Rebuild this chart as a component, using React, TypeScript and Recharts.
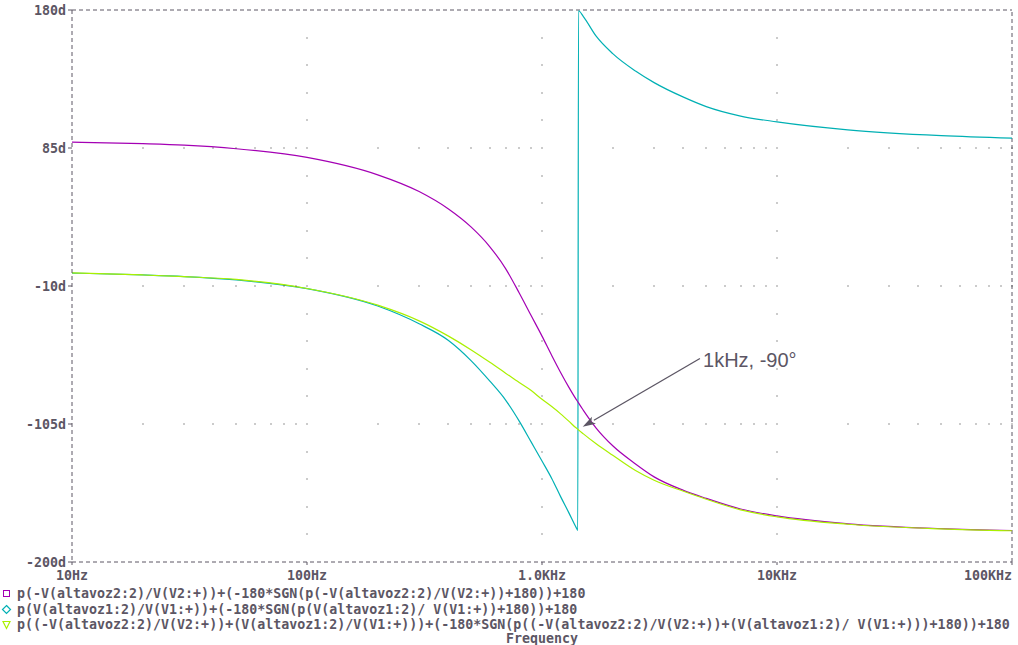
import React from 'react';
import {
  LineChart,
  Line,
  XAxis,
  YAxis,
  ReferenceLine,
  ReferenceDot,
} from 'recharts';

// frequency points (Hz)
const freqs = [
  10, 20, 30, 50, 100, 200, 300, 400, 500, 600, 700, 800, 900, 1000, 1100,
  1200, 1300, 1400, 1420, 1430, 1500, 1700, 2000, 2500, 3000, 4000, 5000, 7000,
  10000, 20000, 50000, 100000,
];

// p(-V(altavoz2:2)/V(V2:+)) ... (magenta)
const phaseWoofer = [
  89, 88, 87, 84.5, 78.5, 66.5, 55, 43, 30.5, 17, 2, -14.8, -30.5, -44.5, -57.8,
  -69.5, -79.6, -88.2, -89.7, -90.5, -95.6, -107.8, -120, -132.5, -141.4,
  -150.7, -156.2, -163.5, -168.3, -173.7, -177, -178.3,
];

// p(V(altavoz1:2)/V(V1:+)) ... (cyan, wraps at -180)
const phaseTweeter = [
  -1.1, -2.4, -3.5, -5.8, -11.8, -23.8, -36, -47.5, -61.5, -75.5, -88.5, -103,
  -117.5, -130.5, -142.5, -155, -166, -176.5, -178.2, 179.5, 175.5, 162, 150,
  138, 130, 120, 113.5, 107, 103, 97.5, 93.5, 91.8,
];

// p((-V(altavoz2:2)/V(V2:+))+(V(altavoz1:2)/V(V1:+))) ... (yellow-green)
const phaseSum = [
  -1, -2.4, -3.5, -5.5, -11.7, -23.2, -34, -44.5, -54, -62.5, -70, -76.5, -82,
  -88, -93, -98, -103, -107.8, -108.5, -109, -111.8, -118.6, -126.5, -137,
  -143.7, -151.3, -156.8, -164.1, -168.9, -174, -177.2, -178.5,
];

const xTicks = [10, 100, 1000, 10000, 100000];
const xTickLabels = ['10Hz', '100Hz', '1.0KHz', '10KHz', '100KHz'];
const yTicks = [-200, -105, -10, 85, 180];
const yTickLabels = ['-200d', '-105d', '-10d', '85d', '180d'];

const legendLabels = [
  'p(-V(altavoz2:2)/V(V2:+))+(-180*SGN(p(-V(altavoz2:2)/V(V2:+))+180))+180',
  'p(V(altavoz1:2)/V(V1:+))+(-180*SGN(p(V(altavoz1:2)/ V(V1:+))+180))+180',
  'p((-V(altavoz2:2)/V(V2:+))+(V(altavoz1:2)/V(V1:+)))+(-180*SGN(p((-V(altavoz2:2)/V(V2:+))+(V(altavoz1:2)/ V(V1:+)))+180))+180',
];

const MAGENTA = '#a400b4';
const CYAN = '#00b0b4';
const GREEN = '#aaf000';
const GRAY = '#5c5664';
const MONO = '"DejaVu Sans Mono", "Liberation Mono", monospace';

const chartData = freqs.map((f, i) => ({
  f,
  woofer: phaseWoofer[i],
  tweeter: phaseTweeter[i],
  sum: phaseSum[i],
}));

// dotted grid: minor decades along the inner horizontal lines,
// 19d steps along the inner decade lines
const gridDots: { x: number; y: number }[] = [];
yTicks.slice(1, -1).forEach((y) => {
  for (let d = 10; d < 100000; d *= 10) {
    for (let m = 2; m <= 10; m++) {
      gridDots.push({ x: d * m, y });
    }
  }
});
xTicks.slice(1, -1).forEach((x) => {
  for (let i = 0; i < yTicks.length - 1; i++) {
    for (let j = 1; j <= 4; j++) {
      gridDots.push({ x, y: yTicks[i] + j * 19 });
    }
  }
});

const XTick = (props: any) => {
  const { x, y, payload, index } = props;
  const last = index === xTicks.length - 1;
  return (
    <text
      x={x}
      y={y + 13}
      textAnchor={last ? 'end' : 'middle'}
      fontFamily={MONO}
      fontWeight="bold"
      fontSize={13.3}
      fill={GRAY}
    >
      {xTickLabels[xTicks.indexOf(payload.value)]}
    </text>
  );
};

const YTick = (props: any) => {
  const { x, y, payload } = props;
  return (
    <text
      x={x}
      y={y + 4.5}
      textAnchor="end"
      fontFamily={MONO}
      fontWeight="bold"
      fontSize={13.3}
      fill={GRAY}
    >
      {yTickLabels[yTicks.indexOf(payload.value)]}
    </text>
  );
};

const GridDot = (props: any) => (
  <rect x={Math.round(props.cx) - 0.5} y={Math.round(props.cy) - 0.5} width={1} height={1} fill="#333" />
);

const Arrow = (props: any) => {
  const { x1, y1, x2, y2 } = props;
  const ang = Math.atan2(y2 - y1, x2 - x1);
  const len = 13;
  const w = 4;
  const bx = x2 - len * Math.cos(ang);
  const by = y2 - len * Math.sin(ang);
  const px = -Math.sin(ang) * w;
  const py = Math.cos(ang) * w;
  return (
    <g>
      <line x1={x1} y1={y1} x2={bx} y2={by} stroke={GRAY} strokeWidth={1.3} />
      <polygon
        points={`${x2},${y2} ${bx + px},${by + py} ${bx + 3 * Math.cos(ang)},${by + 3 * Math.sin(ang)} ${bx - px},${by - py}`}
        fill={GRAY}
      />
    </g>
  );
};

const NoteText = (props: any) => (
  <text
    x={props.cx + 2}
    y={props.cy + 8}
    fontFamily='"Liberation Sans", Arial, sans-serif'
    fontSize={20}
    fill={GRAY}
  >
    1kHz, -90°
  </text>
);

const legendRowTop = [586, 602, 617];

const Marker = ({ index }: { index: number }) => {
  if (index === 0) {
    return <rect x={3.5} y={3.5} width={6} height={6} fill="none" stroke={MAGENTA} strokeWidth={1} />;
  }
  if (index === 1) {
    return <polygon points="6.5,2.5 10.5,6.5 6.5,10.5 2.5,6.5" fill="none" stroke={CYAN} strokeWidth={1.2} />;
  }
  return <polygon points="3,3.5 10,3.5 6.5,10.5" fill="none" stroke={GREEN} strokeWidth={1.2} />;
};

const App: React.FC = () => {
  return (
    <div style={{ position: 'relative', width: 1018, height: 645, background: '#fff' }}>
      <style>{'body{margin:0;background:#fff}'}</style>
      <LineChart
        width={1018}
        height={645}
        data={chartData}
        margin={{ top: 10, right: 6, left: 0, bottom: 0 }}
      >
        <XAxis
          dataKey="f"
          type="number"
          scale="log"
          domain={[10, 100000]}
          ticks={xTicks}
          allowDataOverflow
          height={83}
          tickSize={3}
          tickLine={{ stroke: GRAY }}
          axisLine={{ stroke: GRAY, strokeDasharray: '4 3' }}
          tick={<XTick />}
          interval={0}
        />
        <YAxis
          type="number"
          domain={[-200, 180]}
          ticks={yTicks}
          allowDataOverflow
          width={72}
          tickSize={4}
          tickMargin={2}
          tickLine={{ stroke: GRAY }}
          axisLine={{ stroke: GRAY, strokeDasharray: '4 3' }}
          tick={<YTick />}
          interval={0}
        />
        <ReferenceLine y={180} stroke={GRAY} strokeDasharray="4 3" />
        <ReferenceLine x={100000} stroke={GRAY} strokeDasharray="4 3" />
        {gridDots.map((d, i) => (
          <ReferenceDot key={'g' + i} x={d.x} y={d.y} r={1} shape={<GridDot />} />
        ))}
        <Line
          type="monotone"
          dataKey="tweeter"
          stroke={CYAN}
          strokeWidth={1.2}
          dot={false}
          activeDot={false}
          isAnimationActive={false}
        />
        <Line
          type="monotone"
          dataKey="woofer"
          stroke={MAGENTA}
          strokeWidth={1.2}
          dot={false}
          activeDot={false}
          isAnimationActive={false}
        />
        <Line
          type="monotone"
          dataKey="sum"
          stroke={GREEN}
          strokeWidth={1.2}
          dot={false}
          activeDot={false}
          isAnimationActive={false}
        />
        <ReferenceLine
          segment={[
            { x: 4700, y: -59.9 },
            { x: 1490, y: -106.9 },
          ]}
          shape={<Arrow />}
        />
        <ReferenceDot x={4750} y={-60} r={1} shape={<NoteText />} />
      </LineChart>

      {legendLabels.map((label, i) => (
        <div
          key={label}
          style={{
            position: 'absolute',
            left: 0,
            top: legendRowTop[i],
            height: 15,
            lineHeight: '15px',
            whiteSpace: 'nowrap',
            fontFamily: MONO,
            fontWeight: 'bold',
            fontSize: 13.3,
            color: GRAY,
          }}
        >
          <svg width={14} height={14} style={{ position: 'absolute', left: 0, top: 1 }}>
            <Marker index={i} />
          </svg>
          <span style={{ position: 'absolute', left: 17, top: 0 }}>{label}</span>
        </div>
      ))}
      <div
        style={{
          position: 'absolute',
          left: 442,
          width: 200,
          top: 631,
          textAlign: 'center',
          lineHeight: '15px',
          fontFamily: MONO,
          fontWeight: 'bold',
          fontSize: 13.3,
          color: GRAY,
        }}
      >
        Frequency
      </div>
    </div>
  );
};

export default App;
